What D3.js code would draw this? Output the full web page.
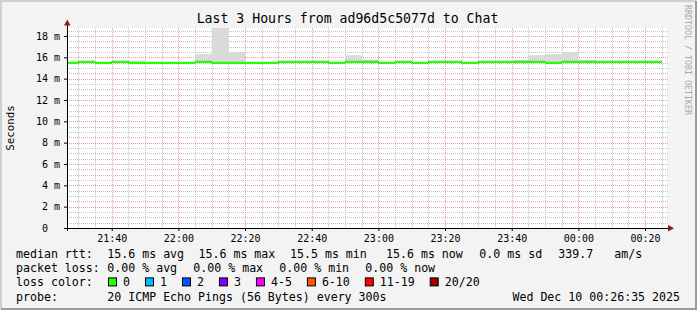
<!DOCTYPE html>
<html>
<head>
<meta charset="utf-8">
<script src="https://cdn.jsdelivr.net/npm/d3@7"></script>
<style>
  body { margin: 0; background: #f3f3f3; }
  svg { display: block; }
  text { font-family: "DejaVu Sans Mono", monospace; white-space: pre; fill: #000; }
</style>
</head>
<body>
<svg id="chart" width="697" height="310"></svg>
<script>
// 5 minute bins (start time of each bin)
var binTimes = ["21:25","21:30","21:35","21:40","21:45","21:50","21:55","22:00","22:05","22:10","22:15","22:20",
                "22:25","22:30","22:35","22:40","22:45","22:50","22:55","23:00","23:05","23:10","23:15","23:20",
                "23:25","23:30","23:35","23:40","23:45","23:50","23:55","00:00","00:05","00:10","00:15","00:20"];
// median rtt in ms
var median = [15.48,15.58,15.48,15.58,15.48,15.48,15.48,15.48,15.58,15.48,15.48,15.48,
              15.48,15.58,15.58,15.58,15.48,15.58,15.58,15.48,15.58,15.48,15.58,15.58,
              15.48,15.58,15.58,15.58,15.58,15.48,15.58,15.58,15.58,15.58,15.58,15.58];
// top of the smoke (slowest ping) in ms
var smokeMax = [15.48,15.58,15.48,15.58,15.7,15.48,15.48,15.48,16.3,19.5,16.5,15.48,
                15.48,15.58,15.58,15.58,15.48,16.2,15.8,15.48,15.58,15.48,15.58,15.58,
                15.48,15.58,15.58,15.75,16.2,16.3,16.5,15.75,15.58,15.58,15.58,15.58];
var yTicks = [0, 2, 4, 6, 8, 10, 12, 14, 16, 18];
var lossLabels = ["0", "1", "2", "3", "4-5", "6-10", "11-19", "20/20"];
var lossColors = ["#26ff00", "#00b8ff", "#0059ff", "#7e00ff", "#ff00ff", "#ff5500", "#ff0000", "#a00000"];
var legendRows = [
  ["median rtt:", "15.6 ms avg", "15.6 ms max", "15.5 ms min", "15.6 ms now", "0.0 ms sd", "339.7", "am/s"],
  ["packet loss:", "0.00 % avg", "0.00 % max", "0.00 % min", "0.00 % now"]
];
var title = "Last 3 Hours from ad96d5c5077d to Chat";
var probeText = "20 ICMP Echo Pings (56 Bytes) every 300s";
var stamp = "Wed Dec 10 00:26:35 2025";

var tStart = new Date(2025, 11, 9, 21, 26, 35);
var tEnd = new Date(2025, 11, 10, 0, 26, 35);

function binDate(s) {
  var p = s.split(":").map(Number);
  return p[0] < 12 ? new Date(2025, 11, 10, p[0], p[1]) : new Date(2025, 11, 9, p[0], p[1]);
}

var svg = d3.select("#chart");
var pLeft = 67, pRight = 667, pTop = 28, pBottom = 228;

var x = d3.scaleTime().domain([tStart, tEnd]).range([pLeft, pRight]);
var y = d3.scaleLinear().domain([0, 18.75]).range([pBottom, pTop]);

// frame
svg.append("rect").attr("width", 697).attr("height", 310).attr("fill", "#f3f3f3");
svg.append("path").attr("d", "M1,309V1H696").attr("stroke", "#cfcfcf").attr("stroke-width", 2).attr("fill", "none");
svg.append("path").attr("d", "M1,309H696V1").attr("stroke", "#9b9b9b").attr("stroke-width", 2).attr("fill", "none");

svg.append("rect").attr("x", pLeft).attr("y", pTop).attr("width", pRight - pLeft).attr("height", pBottom - pTop).attr("fill", "#fff");

svg.append("clipPath").attr("id", "plot").append("rect")
   .attr("x", pLeft).attr("y", pTop).attr("width", pRight - pLeft).attr("height", pBottom - pTop);

// grid
var minorX = d3.timeMinute.every(5).range(tStart, tEnd);
var majorX = d3.timeMinute.every(20).range(tStart, tEnd);
var minorY = d3.range(0.5, 18.75, 0.5).filter(function(d){ return d % 2 != 0; });

var grid = svg.append("g").attr("stroke-dasharray", "1,1").attr("shape-rendering", "crispEdges");
grid.selectAll(".vx").data(minorX).enter().append("line")
    .attr("x1", function(d){ return Math.round(x(d)) + 0.5; }).attr("x2", function(d){ return Math.round(x(d)) + 0.5; })
    .attr("y1", pTop).attr("y2", pBottom).attr("stroke", "#c2c2c2");
grid.selectAll(".hy").data(minorY).enter().append("line")
    .attr("y1", function(d){ return Math.round(y(d)) + 0.5; }).attr("y2", function(d){ return Math.round(y(d)) + 0.5; })
    .attr("x1", pLeft).attr("x2", pRight + 2).attr("stroke", "#c2c2c2");
grid.selectAll(".vm").data(majorX).enter().append("line")
    .attr("x1", function(d){ return Math.round(x(d)) + 0.5; }).attr("x2", function(d){ return Math.round(x(d)) + 0.5; })
    .attr("y1", pTop).attr("y2", pBottom).attr("stroke", "#f29a9a");
grid.selectAll(".hm").data(yTicks.slice(1)).enter().append("line")
    .attr("y1", function(d){ return Math.round(y(d)) + 0.5; }).attr("y2", function(d){ return Math.round(y(d)) + 0.5; })
    .attr("x1", pLeft).attr("x2", pRight + 2).attr("stroke", "#f29a9a");

// smoke + median
var bins = binTimes.map(function(t, i){
  var s = binDate(t);
  return { start: s, end: d3.timeMinute.offset(s, 5), med: median[i], max: smokeMax[i] };
});
var plot = svg.append("g").attr("clip-path", "url(#plot)");

plot.selectAll(".smoke").data(bins).enter().append("rect")
    .attr("x", function(d){ return x(d.start); })
    .attr("width", function(d){ return x(d.end) - x(d.start); })
    .attr("y", function(d){ return y(d.max); })
    .attr("height", function(d){ return y(d.med) - y(d.max); })
    .attr("fill", "#dadada");

var step = d3.line().x(function(d){ return d[0]; }).y(function(d){ return d[1]; });
var pts = [];
bins.forEach(function(d){ pts.push([x(d.start), y(d.med)]); pts.push([x(d.end), y(d.med)]); });
plot.append("path").attr("d", step(pts)).attr("fill", "none").attr("stroke", "#202020").attr("stroke-width", 1);

plot.selectAll(".med").data(bins).enter().append("rect")
    .attr("x", function(d){ return x(d.start); })
    .attr("width", function(d){ return x(d.end) - x(d.start); })
    .attr("y", function(d){ return y(d.med) - 1.1; })
    .attr("height", 2.2)
    .attr("fill", lossColors[0]);

// axes
var xAxis = svg.append("g").attr("transform", "translate(0," + pBottom + ")")
   .call(d3.axisBottom(x).ticks(d3.timeMinute.every(20)).tickFormat(d3.timeFormat("%H:%M")).tickSize(3).tickPadding(4));
xAxis.select(".domain").remove();
xAxis.selectAll("text").attr("font-size", "10px").attr("font-family", "DejaVu Sans Mono");

var yAxis = svg.append("g").attr("transform", "translate(" + pLeft + ",0)")
   .call(d3.axisLeft(y).tickValues(yTicks).tickSize(3).tickPadding(4)
   .tickFormat(function(d){ return d == 0 ? "0  " : d + " m"; }));
yAxis.select(".domain").remove();
yAxis.selectAll("text").attr("font-size", "10px").attr("font-family", "DejaVu Sans Mono");

svg.append("line").attr("x1", pLeft + 0.5).attr("x2", pLeft + 0.5).attr("y1", pBottom + 3).attr("y2", 24).attr("stroke", "#000");
svg.append("line").attr("x1", pLeft - 3).attr("x2", 670).attr("y1", pBottom + 0.5).attr("y2", pBottom + 0.5).attr("stroke", "#000");
svg.append("path").attr("d", "M64,25.5L70.5,25.5L67.25,19.5Z").attr("fill", "#8b1a1a");
svg.append("path").attr("d", "M668,225L668,231.5L674,228.25Z").attr("fill", "#8b1a1a");

// titles
svg.append("text").attr("x", 347.5).attr("y", 23).attr("text-anchor", "middle").attr("font-size", "13.2px").text(title);
svg.append("text").attr("transform", "translate(14,128) rotate(-90)").attr("text-anchor", "middle")
   .attr("font-size", "10.8px").text("Seconds");
svg.append("text").attr("transform", "translate(685,5) rotate(90)").attr("font-size", "8.3px")
   .style("fill", "#a8a8a8").text("RRDTOOL / TOBI OETIKER");

// legend
var colX = [16, 107.3, 198.5, 290, 386, 479.3, 558.3, 614.3];
var rowY = [258, 272.2, 286.4, 300.6];
legendRows.forEach(function(row, r){
  svg.selectAll(".lg" + r).data(row).enter().append("text")
     .attr("x", function(d, i){ return r == 1 ? (i == 0 ? 16 : 107.3 + (i - 1) * 86) : colX[i]; })
     .attr("y", rowY[r]).attr("font-size", "11.6px").text(function(d){ return d; });
});
svg.append("text").attr("x", 16).attr("y", rowY[2]).attr("font-size", "11.6px").text("loss color:");
var bx = 108.5;
lossLabels.forEach(function(l, i){
  svg.append("rect").attr("x", bx).attr("y", rowY[2] - 8.5).attr("width", 8).attr("height", 8)
     .attr("fill", lossColors[i]).attr("stroke", "#000").attr("stroke-width", 1);
  var t = svg.append("text").attr("x", bx + 14.5).attr("y", rowY[2]).attr("font-size", "11.6px").text(l);
  bx = bx + 14.5 + t.node().getComputedTextLength() + 15.5;
});
svg.append("text").attr("x", 16).attr("y", rowY[3]).attr("font-size", "11.6px").text("probe:");
svg.append("text").attr("x", 107.3).attr("y", rowY[3]).attr("font-size", "11.6px").text(probeText);
svg.append("text").attr("x", 680).attr("y", rowY[3]).attr("text-anchor", "end").attr("font-size", "11.6px").text(stamp);
</script>
</body>
</html>
